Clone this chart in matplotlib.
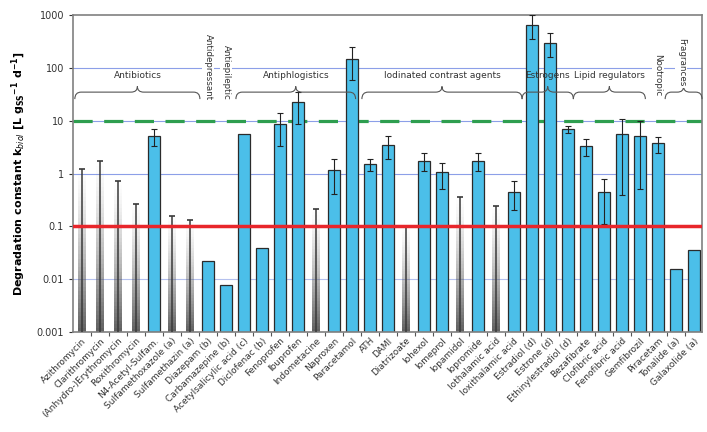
import matplotlib
matplotlib.use('Agg')
import matplotlib.pyplot as plt
import numpy as np
from matplotlib.path import Path
from matplotlib.patches import PathPatch
import matplotlib.transforms as mtransforms


# Compounds and their degradation constants (L gSS^-1 d^-1)
compounds = ['Azithromycin', 'Clarithromycin', '(Anhydro-)Erythromycin', 'Roxithromycin',
             'N4-Acetyl-Sulfam.', 'Sulfamethoxazole (a)', 'Sulfamethazin (a)', 'Diazepam (b)',
             'Carbamazepine (b)', 'Acetylsalicylic acid (c)', 'Diclofenac (b)', 'Fenoprofen',
             'Ibuprofen', 'Indometacine', 'Naproxen', 'Paracetamol', 'ATH', 'DAMI',
             'Diatrizoate', 'Iohexol', 'Iomeprol', 'Iopamidol', 'Iopromide', 'Iothalamic acid',
             'Ioxithalamic acid', 'Estradiol (d)', 'Estrone (d)', 'Ethinylestradiol (d)',
             'Bezafibrate', 'Clofibric acid', 'Fenofibric acid', 'Gemfibrozil', 'Piracetam',
             'Tonalide (a)', 'Galaxolide (a)']

kbiol = [1.23, 1.7, 0.71, 0.27, 5.1, 0.16, 0.134, 0.0215, 0.0068, 5.5, 0.0375, 8.7,
         22.5, 0.21, 1.15, 150, 1.53, 3.44, 0.1, 1.71, 1.06, 0.36, 1.71, 0.24,
         0.44, 660, 300, 7.0, 3.35, 0.44, 5.7, 5.1, 3.8, 0.0147, 0.034]

# True = only an upper limit is known (drawn as a fading grey bar)
upper_limit = [True, True, True, True, False, True, True, False,
               False, False, False, False, False, True, False, False, False, False,
               True, False, False, True, False, True,
               False, False, False, False, False, False, False, False, False, False, False]

# error ranges (low, high); None where no range is given
err_low = [None, None, None, None, 3.3, None, None, None, None, None, None, 3.3,
           8.8, None, 0.41, 58, 1.1, 1.9, None, 1.1, 0.5, None, 1.1, None,
           0.2, 355, 163, 5.9, 2.17, 0.11, 0.4, 0.5, 2.5, None, None]
err_high = [None, None, None, None, 7.0, None, None, None, None, None, None, 14.1,
            34.7, None, 1.9, 247, 1.9, 5.1, None, 2.4, 1.6, None, 2.45, None,
            0.71, 1025, 450, 7.9, 4.55, 0.79, 10.9, 9.8, 4.95, None, None]

# substance classes: (label, first index, last index)
groups = [('Antibiotics', -0.4, 6.55), ('Antiphlogistics', 8.55, 15.2),
          ('Iodinated contrast agents', 15.55, 24.45), ('Estrogens', 24.45, 27.3),
          ('Lipid regulators', 27.3, 31.3), ('', 32.4, 34.45)]
vertical_labels = [('Antidepressant', 7, 0.732), ('Antiepileptic', 8, 0.732),
                   ('Nootropic', 32, 0.745), ('Fragrances', 33.3, 0.775)]

y_bottom = 0.001
x = np.arange(len(compounds))

fig = plt.figure(figsize=(7.07, 4.32), dpi=100)
ax = fig.add_axes([0.1033, 0.2315, 0.8897, 0.7335])
ax.set_yscale('log')
ax.set_ylim(0.001, 1000)
ax.set_xlim(-0.5, 34.45)

# horizontal guide lines
for g in [100, 10, 1]:
    ax.axhline(g, color='#8c9fe8', lw=0.8, zorder=0)
ax.axhline(0.01, color='#b5c1ee', lw=0.8, zorder=0)
ax.axhline(10, color='#2e9e4f', lw=2.3, dashes=(6, 3.6), zorder=1)

# measured values as bars
for i in x:
    v = kbiol[i]
    if upper_limit[i]:
        # grey bar fading out towards the top
        edges = np.logspace(np.log10(y_bottom), np.log10(v), 41)
        for k in range(40):
            t = k / 40
            ax.bar(i, edges[k + 1] - edges[k], bottom=edges[k], width=0.42,
                   color='#505050', alpha=0.9 * (1 - t) ** 1.4, lw=0, zorder=2)
        ax.vlines(i, y_bottom, v, color='#3a3a3a', lw=1.1, zorder=3)
        ax.plot([i], [v], marker='_', ms=5, mew=1.2, color='#3a3a3a', zorder=3)
    else:
        ax.bar(i, v, bottom=y_bottom, width=0.64, color='#4bbfe9',
               edgecolor='#2b2b2b', lw=0.9, zorder=2)
        if err_low[i] is not None:
            ax.errorbar(i, v, yerr=[[v - err_low[i]], [err_high[i] - v]], fmt='none',
                        ecolor='#222222', elinewidth=0.8, capsize=2.2, capthick=0.8, zorder=4)

ax.axhline(0.1, color='#e8262b', lw=2.5, zorder=5)

# class braces above the bars
trans = mtransforms.blended_transform_factory(ax.transData, ax.transAxes)
y_end, y_mid, y_tip = 0.735, 0.757, 0.775
r = 0.35
for label, x0, x1 in groups:
    xm = (x0 + x1) / 2
    verts = [(x0, y_end), (x0, y_mid), (x0 + r, y_mid),
             (xm - r, y_mid), (xm, y_mid), (xm, y_tip),
             (xm, y_mid), (xm + r, y_mid),
             (x1 - r, y_mid), (x1, y_mid), (x1, y_end)]
    codes = [Path.MOVETO, Path.CURVE3, Path.CURVE3,
             Path.LINETO, Path.CURVE3, Path.CURVE3,
             Path.CURVE3, Path.CURVE3,
             Path.LINETO, Path.CURVE3, Path.CURVE3]
    ax.add_patch(PathPatch(Path(verts, codes), transform=trans, fill=False,
                           edgecolor='#555555', lw=0.8, zorder=6, clip_on=False))
    if label:
        ax.text(xm, 0.808, label, transform=trans, ha='center', va='center',
                fontsize=6.5, color='#333333', zorder=7)

for label, xi, yb in vertical_labels:
    ax.text(xi, yb, label, transform=trans, rotation=270, ha='center', va='bottom',
            fontsize=6.3, color='#333333', zorder=7,
            bbox=dict(facecolor='white', edgecolor='none', pad=1.0))

# axes styling
ax.set_yticks([0.001, 0.01, 0.1, 1, 10, 100, 1000])
ax.set_yticklabels(['0.001', '0.01', '0.1', '1', '10', '100', '1000'])
ax.minorticks_off()
ax.tick_params(axis='y', labelsize=7, colors='#333333', length=3, width=0.8)
ax.set_xticks(x)
ax.set_xticklabels(compounds, rotation=45, ha='right', rotation_mode='anchor',
                   fontsize=6.5, color='#333333')
ax.tick_params(axis='x', which='major', length=0, pad=3)
ax.set_xticks(np.arange(0.5, len(compounds) - 1, 1), minor=True)
ax.tick_params(axis='x', which='minor', length=3, width=0.8, color='#555555')

for s in ax.spines.values():
    s.set_color('#808080')
    s.set_linewidth(1.2)

ax.set_ylabel(r'Degradation constant k$_{\mathbf{\mathit{biol}}}$ [L g$_{\mathbf{SS}}$$^{\mathbf{-1}}$ d$^{\mathbf{-1}}$]',
              fontsize=8, fontweight='bold', labelpad=6)

fig.savefig('out.png', dpi=100)
